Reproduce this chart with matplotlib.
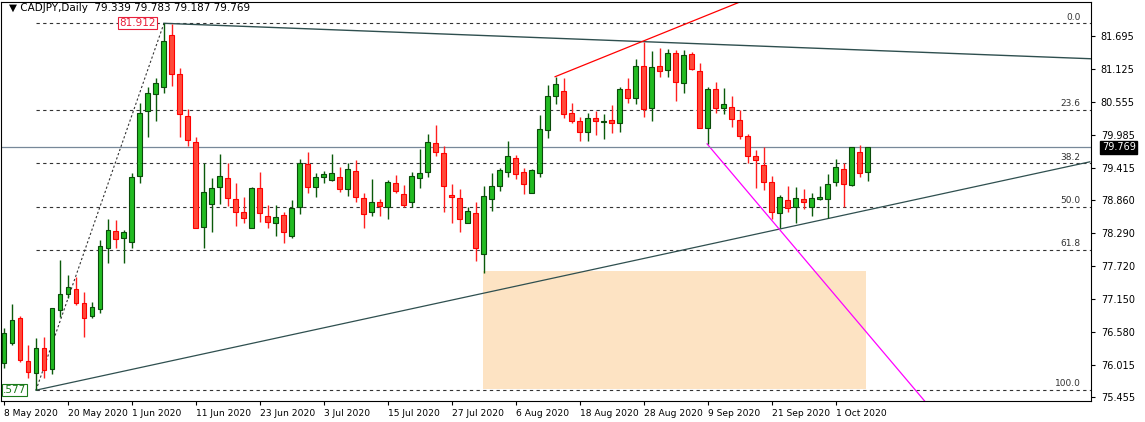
import matplotlib
matplotlib.use("Agg")
import matplotlib.pyplot as plt
import numpy as np
import pandas as pd
from matplotlib.patches import Rectangle

opens = [76.05,76.39,76.83,76.08,75.88,76.31,75.94,76.96,77.24,77.33,77.09,76.86,76.98,78.04,78.33,78.21,78.14,79.28,80.40,80.69,
         80.81,81.71,81.04,80.31,79.87,78.40,78.79,79.09,79.24,78.88,78.66,78.38,79.07,78.59,78.47,78.60,78.24,78.74,79.49,79.09,
         79.26,79.21,79.26,79.05,79.36,78.90,78.66,78.83,78.74,79.16,78.97,78.83,79.24,79.35,79.85,79.67,78.95,78.90,78.47,78.64,
         77.93,78.88,79.10,79.35,79.59,79.35,78.98,79.33,80.07,80.66,80.75,80.37,80.23,80.04,80.28,80.21,80.24,80.19,80.78,80.63,
         81.18,80.45,81.18,81.11,81.40,80.88,81.39,81.09,80.11,80.78,80.45,80.47,80.24,79.97,79.62,79.47,79.17,78.64,78.86,78.74,
         78.88,78.74,78.88,78.88,79.17,79.40,79.12,79.69,79.339]
highs = [76.65,77.07,76.86,76.36,76.48,76.50,77.00,77.83,77.57,77.53,77.27,77.10,78.17,78.53,78.52,78.34,79.33,80.54,80.81,80.97,
         81.912,81.90,81.14,80.44,79.95,79.50,79.24,79.66,79.50,79.16,78.92,79.09,79.35,78.78,78.78,78.66,78.86,79.57,79.69,79.33,
         79.36,79.66,79.43,79.50,79.55,78.98,79.23,78.88,79.21,79.29,79.12,79.35,79.74,80.00,80.16,79.80,79.14,79.05,78.74,78.83,
         79.10,79.33,79.42,79.88,79.64,79.42,79.40,80.33,80.85,80.99,80.97,80.54,80.30,80.37,80.40,80.35,80.50,80.81,80.97,81.30,
         81.59,81.44,81.49,81.47,81.45,81.45,81.42,81.23,80.81,80.90,80.80,80.66,80.42,80.00,79.73,79.78,79.28,78.95,79.10,79.09,
         79.05,78.98,79.10,79.31,79.57,79.50,79.78,79.81,79.783]
lows = [75.96,76.36,76.07,75.79,75.577,75.79,75.86,76.84,77.17,77.05,76.50,76.83,76.91,77.78,78.04,77.78,78.04,79.16,79.95,80.23,
        80.71,80.83,79.95,79.80,78.38,78.04,78.31,78.79,78.76,78.41,78.47,78.38,78.48,78.38,78.24,78.12,78.21,78.62,78.98,78.92,
        79.16,79.19,79.00,78.93,78.83,78.38,78.59,78.59,78.53,78.98,78.74,78.74,79.07,79.26,79.62,78.66,78.47,78.31,78.47,77.81,
        77.60,78.67,79.02,79.26,79.23,78.97,78.98,79.26,79.93,80.52,80.28,80.19,79.88,79.88,79.99,79.92,80.02,80.04,80.54,80.52,
        80.30,80.23,80.99,80.99,80.57,80.71,81.11,80.11,79.83,80.37,80.35,80.12,79.92,79.50,79.07,79.04,78.53,78.38,78.66,78.47,
        78.71,78.59,78.86,78.55,79.10,78.74,79.10,79.26,79.187]
closes = [76.57,76.79,76.10,75.89,76.31,75.93,77.00,77.24,77.36,77.09,76.83,77.02,78.07,78.34,78.19,78.31,79.26,80.37,80.71,80.88,
          81.61,81.04,80.35,79.90,78.38,79.00,79.07,79.28,78.90,78.66,78.55,79.07,78.64,78.48,78.57,78.31,78.72,79.50,79.09,79.26,
          79.31,79.33,79.05,79.40,78.92,78.62,78.83,78.76,79.17,79.02,78.78,79.28,79.33,79.87,79.69,79.10,78.92,78.53,78.67,78.04,
          78.93,79.10,79.38,79.62,79.31,79.14,79.38,80.09,80.66,80.87,80.35,80.23,80.04,80.28,80.23,80.23,80.19,80.78,80.63,81.18,
          80.44,81.16,81.09,81.40,80.90,81.37,81.13,80.11,80.78,80.45,80.52,80.26,79.97,79.62,79.55,79.17,78.66,78.92,78.72,78.90,
          78.83,78.90,78.92,79.14,79.43,79.14,79.78,79.33,79.769]

dates = pd.bdate_range("2020-05-08", periods=len(opens))
price_ticks = [81.695,81.125,80.555,79.985,79.415,78.860,78.290,77.720,77.150,76.580,76.015,75.455]
fib_high, fib_low = 81.912, 75.577
fib_ratios = [0.0, 23.6, 38.2, 50.0, 61.8, 100.0]
current = 79.769

W, H = 1145, 422
fig = plt.figure(figsize=(W/100, H/100), dpi=100)
ax = fig.add_axes([1/W, 21/H, 1090/W, 399/H])
ax.set_xlim(-0.375, 135.9)
ax.set_ylim(75.39, 82.28)

x = np.arange(len(opens))
o, h, l, c = map(np.array, (opens, highs, lows, closes))
up = c >= o
ax.vlines(x[up], l[up], h[up], color="#0a5a0a", lw=1, zorder=3)
ax.vlines(x[~up], l[~up], h[~up], color="#ff2020", lw=1, zorder=3)
ax.bar(x[up], (c-o)[up], bottom=o[up], width=0.62, color="#22bb22", edgecolor="#0a4a0a", lw=0.8, zorder=4)
ax.bar(x[~up], (o-c)[~up], bottom=c[~up], width=0.62, color="#ff4a3a", edgecolor="#ff0000", lw=0.8, zorder=4)

# fib levels
i_low, i_high = 4, 20
for r in fib_ratios:
    lvl = fib_high - (fib_high - fib_low) * r / 100
    ax.plot([i_low, 135.9], [lvl, lvl], ls=(0, (3, 3)), color="#333333", lw=0.8, zorder=2)
    ax.text(134.6, lvl + 0.03, f"{r:.1f}", fontsize=6.5, ha="right", va="bottom", color="#333333")
ax.plot([i_low, i_high], [fib_low, fib_high], ls=(0, (2, 2)), color="#333333", lw=0.8, zorder=2)

# orange zone
ax.add_patch(Rectangle((59.9, 75.60), 107.75-59.9, 77.64-75.60, color="#fde3c3", zorder=1, lw=0))

# trend lines
ax.plot([i_high, 135.9], [fib_high, 81.30], color="#2f4f4f", lw=1, zorder=2)
ax.plot([i_low, 135.75], [fib_low, 79.52], color="#2f4f4f", lw=0.9, zorder=2)
ax.plot([68.9, 92.0], [80.99, 82.28], color="#ff0000", lw=0.9, zorder=2)
ax.plot([87.9, 115.1], [79.83, 75.39], color="#ff00ff", lw=0.9, zorder=2)
ax.axhline(current, color="#778899", lw=0.9, zorder=2)

# labels
ax.text(14.4, fib_high, "81.912", fontsize=7.5, color="#e8203a", ha="left", va="center",
        bbox=dict(boxstyle="square,pad=0.1", fc="white", ec="#e8203a", lw=0.8), zorder=6)
ax.text(-0.1, fib_low, ".577", fontsize=7.5, color="#1a7a1a", ha="left", va="center",
        bbox=dict(boxstyle="square,pad=0.1", fc="white", ec="#1a7a1a", lw=0.8), zorder=6)
ax.text(0.6, 82.17, "▼ CADJPY,Daily  79.339 79.783 79.187 79.769", fontsize=7.5, ha="left", va="center", color="black")

# axes
ax.yaxis.tick_right()
ax.set_yticks(price_ticks)
ax.set_yticklabels([f"{t:.3f}" for t in price_ticks], fontsize=7)
ax.tick_params(axis="y", length=3, pad=4, colors="black")
xt = list(range(0, len(opens), 8))
ax.set_xticks(xt)
ax.set_xticklabels([f"{d.day} {d.strftime('%b %Y')}" for d in dates[xt]], fontsize=6.6, ha="left")
ax.tick_params(axis="x", length=3, pad=3)
for s in ax.spines.values():
    s.set_color("black"); s.set_linewidth(0.8)
ax.text(1.01, (current - 75.39)/(82.28-75.39), "79.769", transform=ax.transAxes, fontsize=7, color="white",
        ha="left", va="center", bbox=dict(boxstyle="square,pad=0.15", fc="black", ec="black"))

fig.savefig("out.png", dpi=100, facecolor="white")
